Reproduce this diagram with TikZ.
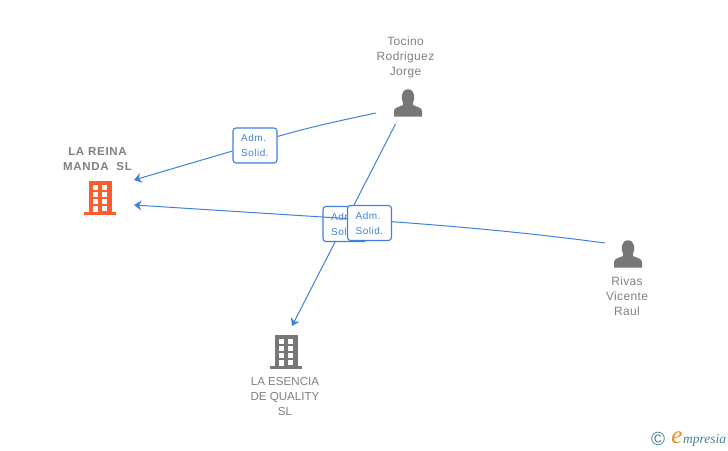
\documentclass[tikz,border=0pt]{standalone}
\usepackage{fontspec}
\setmainfont{Liberation Sans}
\newfontfamily\logofont{Liberation Serif}
\usetikzlibrary{arrows.meta}
\definecolor{lnk}{HTML}{3F80DE}
\definecolor{txt}{HTML}{7F7F7F}
\definecolor{ico}{HTML}{777777}
\definecolor{org}{HTML}{FF5C2E}
\definecolor{logot}{HTML}{3F8296}
\definecolor{logoo}{HTML}{F08A1D}
\tikzset{
  x=1pt,y=-1pt,
  lbl/.style={align=center,text=txt,font=\fontsize{11.6}{15}\selectfont,inner sep=0pt},
  plbl/.style={align=center,text=txt,font=\fontsize{12}{15}\selectfont\addfontfeatures{LetterSpace=3},inner sep=0pt},
  blbl/.style={align=center,text=txt,font=\fontsize{11.5}{15}\selectfont\bfseries\addfontfeatures{LetterSpace=6},inner sep=0pt},
  role/.style={draw=lnk,rounded corners=3pt,fill=white,line width=1.1pt,minimum width=44pt,minimum height=35pt,inner sep=0pt,
    align=left,text=lnk,font=\fontsize{10}{15}\selectfont\addfontfeatures{LetterSpace=5}},
  link/.style={draw=lnk,line width=1pt},
  tip/.style={-{Stealth[length=7.5pt,width=10pt,inset=2.5pt]}},
  anchorbox/.style={inner sep=0pt,minimum size=30pt},
}
\newcommand{\personicon}[2]{%
  \begin{scope}[shift={(#1,#2)}]
  \fill[ico] (-14,13.7) -- (-14,8) .. controls (-14,4.5) and (-9,4) .. (-5,2)
    -- (-5,-0.5) .. controls (-7.5,-4) and (-7,-13.7) .. (0,-13.7)
    .. controls (7,-13.7) and (7.5,-4) .. (5,-0.5) -- (5,2)
    .. controls (9,4) and (14,4.5) .. (14,8) -- (14,13.7) -- cycle;
  \end{scope}}
\newcommand{\buildingicon}[3]{%
  \begin{scope}[shift={(#1,#2)}]
  \fill[#3] (-11.5,-17) rectangle (11.5,14);
  \fill[#3] (-16,14) rectangle (16,17);
  \foreach \yy in {-13,-6,1,8}{\fill[white] (1.7,\yy) rectangle (7.3,\yy+4.5);}
  \foreach \yy in {-13,-6,1}{\fill[white] (-7.3,\yy) rectangle (-2,\yy+4.5);}
  \fill[white] (-7.3,8) rectangle (-2,14);
  \end{scope}}
\begin{document}
\begin{tikzpicture}
\useasboundingbox (0,0) rectangle (728,450);
\node[anchorbox] (reina) at (100,198) {};
\node[anchorbox] (esencia) at (286,352) {};
\node[anchorbox] (tocino) at (408,103) {};
\node[anchorbox] (rivas) at (628,254) {};
\buildingicon{100}{198}{org}
\buildingicon{286}{352}{ico}
\personicon{408}{103}
\personicon{628}{254}
\node[blbl] (reinat) at (97.5,159.5) {LA REINA\\MANDA\ \ SL};
\node[lbl] (esenciat) at (285,396.5) {LA ESENCIA\\DE QUALITY\\SL};
\node[plbl] (tocinot) at (405.5,57) {Tocino\\Rodriguez\\Jorge};
\node[plbl] (rivast) at (627,296) {Rivas\\Vicente\\Raul};
\coordinate (t1) at (376,113);
\coordinate (t2) at (395.5,124);
\coordinate (r1) at (605,243);
\coordinate (a1) at (134,180);
\coordinate (a2) at (134,205);
\coordinate (a3) at (292,326);
\node[role] (b1) at (255,145.5) {Adm.\\Solid.};
\draw[link,tip] (b1.west) ++(0,5.5) -- (a1);
\draw[link] (t1) .. controls (345,119.5) and (310,127) .. ([yshift=9pt]b1.east);
\draw[link,tip] (t2) -- (a3);
\node[role] (b2) at (345,224) {Adm.\\Solid.};
\draw[link,tip] (r1) .. controls (530,233) and (450,225) .. (b2.west |- 0,217) -- (a2);
\node[role] (b3) at (369.5,223) {Adm.\\Solid.};
\node[inner sep=0pt,text=logot,font=\fontsize{19}{19}\selectfont] (copy) at (658,439) {©};
\node[inner sep=0pt,anchor=west,text=logot,font=\logofont\fontsize{13.5}{14}\selectfont\itshape] (brand) at (683,440) {mpresia};
\node[inner sep=0pt,text=logoo,font=\logofont\fontsize{25}{25}\selectfont\itshape] (e) at (677,437.5) {e};
\end{tikzpicture}
\end{document}
